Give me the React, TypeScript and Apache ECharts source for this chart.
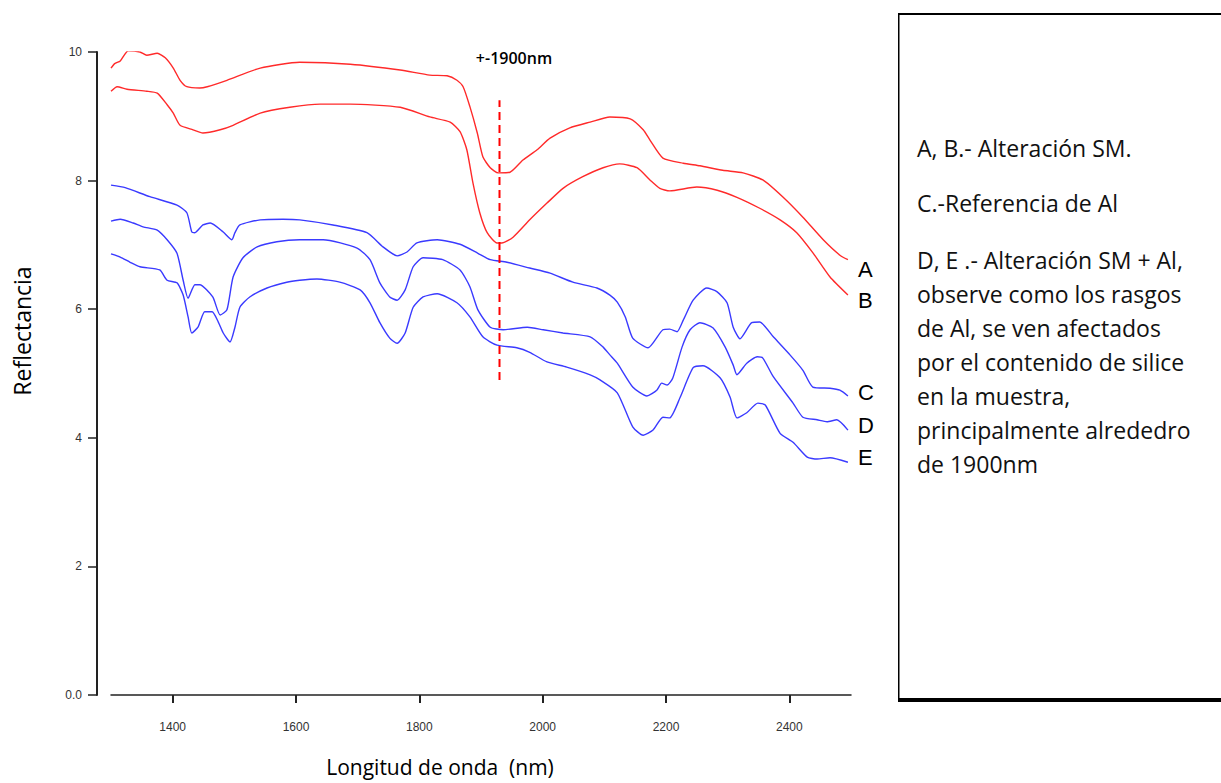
import React, { useEffect, useRef } from "react";
import * as echarts from "echarts";

// Axis ticks
const wavelengthTicks = [1400, 1600, 1800, 2000, 2200, 2400];
const reflectanceMin = 0;
const reflectanceMax = 10;
const reflectanceStep = 2;

// Spectra [wavelength nm, reflectance]
const curveA: [number, number][] = [
  [1300, 9.75], [1306, 9.82], [1315, 9.86], [1328, 10.02], [1347, 10.0], [1358, 9.95], [1375, 9.98],
  [1388, 9.91], [1401, 9.75], [1412, 9.56], [1423, 9.46], [1444, 9.44], [1456, 9.46], [1488, 9.56],
  [1542, 9.75], [1606, 9.84], [1688, 9.81], [1769, 9.72], [1817, 9.64], [1845, 9.63], [1861, 9.56],
  [1871, 9.46], [1882, 9.15], [1894, 8.74], [1903, 8.37], [1915, 8.2], [1928, 8.12], [1947, 8.13],
  [1968, 8.32], [1991, 8.48], [2012, 8.66], [2044, 8.82], [2077, 8.91], [2109, 8.99], [2142, 8.96],
  [2163, 8.79], [2174, 8.63], [2195, 8.35], [2228, 8.27], [2255, 8.23], [2292, 8.16], [2325, 8.12],
  [2357, 8.01], [2390, 7.74], [2422, 7.43], [2455, 7.08], [2482, 6.84], [2495, 6.77],
];

const curveB: [number, number][] = [
  [1300, 9.39], [1310, 9.46], [1326, 9.42], [1358, 9.39], [1375, 9.36], [1391, 9.18], [1401, 9.05],
  [1412, 8.86], [1433, 8.79], [1449, 8.74], [1477, 8.79], [1498, 8.86], [1542, 9.05], [1590, 9.14],
  [1639, 9.19], [1688, 9.19], [1769, 9.14], [1817, 8.99], [1850, 8.91], [1866, 8.76], [1877, 8.48],
  [1887, 7.96], [1898, 7.5], [1910, 7.19], [1926, 7.03], [1934, 7.03], [1952, 7.12], [1979, 7.39],
  [2007, 7.65], [2033, 7.88], [2065, 8.06], [2098, 8.2], [2125, 8.26], [2153, 8.2], [2174, 8.01],
  [2190, 7.88], [2206, 7.84], [2250, 7.9], [2283, 7.85], [2315, 7.74], [2352, 7.57], [2385, 7.39],
  [2412, 7.19], [2438, 6.88], [2466, 6.5], [2495, 6.22],
];

const curveC: [number, number][] = [
  [1300, 7.93], [1323, 7.89], [1363, 7.75], [1407, 7.62], [1423, 7.5], [1431, 7.2], [1436, 7.19],
  [1449, 7.31], [1461, 7.34], [1482, 7.2], [1496, 7.08], [1501, 7.19], [1509, 7.31], [1542, 7.39],
  [1579, 7.4], [1606, 7.39], [1660, 7.31], [1715, 7.19], [1741, 6.97], [1764, 6.83], [1780, 6.89],
  [1796, 7.03], [1829, 7.08], [1866, 7.01], [1895, 6.87], [1915, 6.77], [1942, 6.73], [1979, 6.64],
  [2012, 6.56], [2049, 6.42], [2088, 6.33], [2109, 6.22], [2121, 6.11], [2134, 5.88], [2146, 5.55],
  [2171, 5.4], [2195, 5.68], [2206, 5.69], [2218, 5.65], [2228, 5.83], [2244, 6.14], [2266, 6.33],
  [2283, 6.27], [2299, 6.1], [2309, 5.72], [2320, 5.54], [2339, 5.79], [2352, 5.8], [2374, 5.57],
  [2401, 5.29], [2422, 5.05], [2438, 4.79], [2466, 4.77], [2482, 4.74], [2495, 4.65],
];

const curveD: [number, number][] = [
  [1300, 7.37], [1315, 7.4], [1336, 7.34], [1352, 7.28], [1375, 7.23], [1391, 7.08], [1407, 6.87],
  [1417, 6.45], [1425, 6.17], [1436, 6.38], [1444, 6.38], [1465, 6.19], [1477, 5.91], [1488, 5.99],
  [1498, 6.5], [1514, 6.8], [1537, 6.97], [1569, 7.05], [1606, 7.08], [1644, 7.08], [1699, 6.95],
  [1720, 6.77], [1736, 6.41], [1752, 6.19], [1764, 6.14], [1777, 6.3], [1790, 6.66], [1806, 6.8],
  [1838, 6.77], [1866, 6.61], [1882, 6.35], [1895, 5.99], [1915, 5.72], [1936, 5.68], [1975, 5.72],
  [2001, 5.68], [2033, 5.63], [2077, 5.57], [2098, 5.41], [2109, 5.29], [2121, 5.16], [2146, 4.79],
  [2169, 4.65], [2185, 4.74], [2193, 4.85], [2202, 4.82], [2211, 4.93], [2226, 5.41], [2239, 5.68],
  [2255, 5.79], [2276, 5.71], [2296, 5.41], [2309, 5.13], [2315, 4.98], [2331, 5.16], [2348, 5.26],
  [2357, 5.24], [2374, 4.95], [2406, 4.54], [2422, 4.32], [2445, 4.28], [2461, 4.25], [2477, 4.28],
  [2495, 4.12],
];

const curveE: [number, number][] = [
  [1300, 6.86], [1315, 6.81], [1331, 6.73], [1347, 6.66], [1379, 6.61], [1391, 6.45], [1407, 6.41],
  [1417, 6.22], [1425, 5.88], [1431, 5.63], [1441, 5.72], [1452, 5.96], [1464, 5.96], [1474, 5.8],
  [1482, 5.63], [1493, 5.49], [1501, 5.72], [1509, 6.03], [1525, 6.19], [1553, 6.33], [1585, 6.42],
  [1606, 6.45], [1634, 6.47], [1671, 6.42], [1704, 6.3], [1720, 6.1], [1736, 5.79], [1752, 5.55],
  [1764, 5.47], [1777, 5.63], [1790, 6.03], [1806, 6.19], [1829, 6.24], [1861, 6.1], [1882, 5.88],
  [1903, 5.57], [1926, 5.44], [1958, 5.4], [1979, 5.33], [2007, 5.18], [2039, 5.1], [2077, 4.98],
  [2093, 4.9], [2121, 4.7], [2146, 4.17], [2163, 4.04], [2179, 4.12], [2195, 4.32], [2206, 4.31],
  [2223, 4.63], [2244, 5.09], [2260, 5.12], [2288, 4.93], [2304, 4.63], [2315, 4.31], [2331, 4.39],
  [2349, 4.54], [2361, 4.51], [2385, 4.07], [2406, 3.93], [2429, 3.7], [2445, 3.67], [2466, 3.69],
  [2495, 3.62],
];

// Vertical marker near the 1900 nm water feature
const marker1900: [number, number][] = [[1930, 4.9], [1930, 9.25]];
const markerText = "+-1900nm";

const noteLines = [
  { text: "A, B.- Alteración SM.", y: 148 },
  { text: "C.-Referencia de Al", y: 203 },
  { text: "D, E .- Alteración SM + Al,", y: 260 },
  { text: "observe como los rasgos", y: 294 },
  { text: "de Al, se ven afectados", y: 328 },
  { text: "por el contenido de silice", y: 362 },
  { text: "en la muestra,", y: 396 },
  { text: "principalmente alrededro", y: 430 },
  { text: "de 1900nm", y: 464 },
];

const RED = "#ff2a2a";
const BLUE = "#3a3aff";
const TEXT_FONT = "'Open Sans', Lato, sans-serif";
const TICK_FONT = "'Liberation Sans', Arial, sans-serif";

function spectrum(name: string, data: [number, number][], color: string, labelOffset: [number, number]) {
  return {
    name,
    type: "line",
    data,
    showSymbol: false,
    symbol: "none",
    smooth: 0.2,
    lineStyle: { color, width: 1.4 },
    endLabel: {
      show: true,
      formatter: name,
      offset: labelOffset,
      color: "#000",
      fontSize: 22,
      fontFamily: TICK_FONT,
    },
    z: 3,
  };
}

export default function App() {
  const ref = useRef<HTMLDivElement>(null);

  useEffect(() => {
    if (!ref.current) return;
    const chart = echarts.init(ref.current, null, { renderer: "svg" });

    const option: any = {
      animation: false,
      backgroundColor: "#ffffff",
      grid: { left: 111, right: 370, top: 52, bottom: 88, containLabel: false },
      xAxis: {
        type: "value",
        min: 1300,
        max: 2500,
        offset: 12,
        splitLine: { show: false },
        axisLine: { show: true, lineStyle: { color: "#222", width: 1.5 } },
        axisTick: {
          show: true,
          length: 8,
          inside: false,
          customValues: wavelengthTicks,
          lineStyle: { color: "#222", width: 2 },
        },
        axisLabel: {
          customValues: wavelengthTicks,
          margin: 14,
          color: "#333",
          fontSize: 12,
          fontFamily: TICK_FONT,
          formatter: (v: number) => String(v),
        },
      },
      yAxis: {
        type: "value",
        min: reflectanceMin,
        max: reflectanceMax,
        interval: reflectanceStep,
        offset: 14,
        splitLine: { show: false },
        axisLine: { show: true, lineStyle: { color: "#222", width: 2 } },
        axisTick: { show: true, length: 9, inside: false, lineStyle: { color: "#222", width: 1.5 } },
        axisLabel: {
          margin: 15,
          color: "#333",
          fontSize: 12,
          fontFamily: TICK_FONT,
          formatter: (v: number) => (v === 0 ? "0.0" : String(v)),
        },
      },
      series: [
        spectrum("A", curveA, RED, [2, 10]),
        spectrum("B", curveB, RED, [2, 5]),
        spectrum("C", curveC, BLUE, [2, -4]),
        spectrum("D", curveD, BLUE, [2, -5]),
        spectrum("E", curveE, BLUE, [2, -5]),
        {
          name: "1900",
          type: "line",
          data: marker1900,
          symbol: "none",
          lineStyle: { color: "#ff0000", width: 2, type: [8, 5] },
          z: 4,
        },
      ],
      graphic: [
        {
          type: "text",
          x: 514,
          y: 58,
          style: {
            text: markerText,
            font: `600 16px ${TEXT_FONT}`,
            fill: "#000",
            textAlign: "center",
            textVerticalAlign: "middle",
          },
        },
        {
          type: "text",
          x: 22,
          y: 331,
          rotation: Math.PI / 2,
          style: {
            text: "Reflectancia",
            font: `23px ${TEXT_FONT}`,
            fill: "#000",
            textAlign: "center",
            textVerticalAlign: "middle",
          },
        },
        {
          type: "text",
          x: 440,
          y: 767,
          style: {
            text: "Longitud de onda  (nm)",
            font: `21px ${TEXT_FONT}`,
            fill: "#000",
            textAlign: "center",
            textVerticalAlign: "middle",
          },
        },
        // note box frame
        { type: "rect", shape: { x: 898, y: 13, width: 323, height: 2 }, style: { fill: "#000" } },
        { type: "rect", shape: { x: 898, y: 13, width: 1.5, height: 688 }, style: { fill: "#000" } },
        { type: "rect", shape: { x: 898, y: 698, width: 323, height: 4 }, style: { fill: "#000" } },
        ...noteLines.map((l) => ({
          type: "text",
          x: 917,
          y: l.y,
          style: {
            text: l.text,
            font: `23px ${TEXT_FONT}`,
            fill: "#111",
            textAlign: "left",
            textVerticalAlign: "middle",
          },
        })),
      ],
    };

    chart.setOption(option);
    return () => chart.dispose();
  }, []);

  return (
    <div
      ref={ref}
      style={{ position: "fixed", left: 0, top: 0, width: 1221, height: 783, background: "#fff" }}
    />
  );
}
